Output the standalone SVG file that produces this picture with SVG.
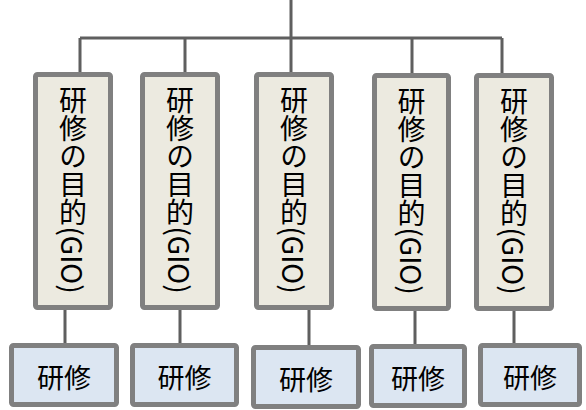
<svg xmlns="http://www.w3.org/2000/svg" width="586" height="410" viewBox="0 0 586 410">
<style>
.conn{stroke:#5f5f5f;stroke-width:3;fill:none}
.goal{fill:#ECEAE0;stroke:#808080;stroke-width:5}
.trn{fill:#DCE6F2;stroke:#808080;stroke-width:5}
.vt{font-family:"Noto Sans CJK JP","Noto Sans CJK SC",sans-serif;font-size:28px;fill:#000;writing-mode:vertical-rl;text-anchor:middle}
.ht{font-family:"Noto Sans CJK JP","Noto Sans CJK SC",sans-serif;font-size:27px;fill:#000;text-anchor:middle;dominant-baseline:central}
</style>
<rect width="586" height="410" fill="#fff"/>
<g id="connectors">
<path class="conn" d="M291 0V38M80 38H502M80 38V74M185 38V74M291 38V74M412 38V75M502 38V75"/>
<path class="conn" d="M65 308V345M180 308V346M309 308V347M415 309V346M514 309V345"/>
</g>
<g id="goal1"><rect class="goal" x="35.5" y="74.5" width="75" height="233" rx="2"/><text class="vt" x="73" y="190">研修の目的(GIO)</text></g>
<g id="goal2"><rect class="goal" x="142.5" y="74.5" width="75" height="233" rx="2"/><text class="vt" x="180" y="190">研修の目的(GIO)</text></g>
<g id="goal3"><rect class="goal" x="256.5" y="74.5" width="75" height="233" rx="2"/><text class="vt" x="294" y="190">研修の目的(GIO)</text></g>
<g id="goal4"><rect class="goal" x="374.5" y="75.5" width="74" height="233" rx="2"/><text class="vt" x="411.5" y="191">研修の目的(GIO)</text></g>
<g id="goal5"><rect class="goal" x="476.5" y="75.5" width="75" height="233" rx="2"/><text class="vt" x="514" y="191">研修の目的(GIO)</text></g>
<g id="training1"><rect class="trn" x="11.5" y="345.5" width="105" height="59" rx="2"/><text class="ht" x="64" y="376">研修</text></g>
<g id="training2"><rect class="trn" x="132.5" y="345.5" width="104" height="59" rx="2"/><text class="ht" x="184.5" y="376">研修</text></g>
<g id="training3"><rect class="trn" x="253.5" y="347.5" width="105" height="59" rx="2"/><text class="ht" x="306" y="378">研修</text></g>
<g id="training4"><rect class="trn" x="371.5" y="346.5" width="93" height="59" rx="2"/><text class="ht" x="418" y="377">研修</text></g>
<g id="training5"><rect class="trn" x="480.5" y="345.5" width="99" height="59" rx="2"/><text class="ht" x="530" y="376">研修</text></g>
</svg>
